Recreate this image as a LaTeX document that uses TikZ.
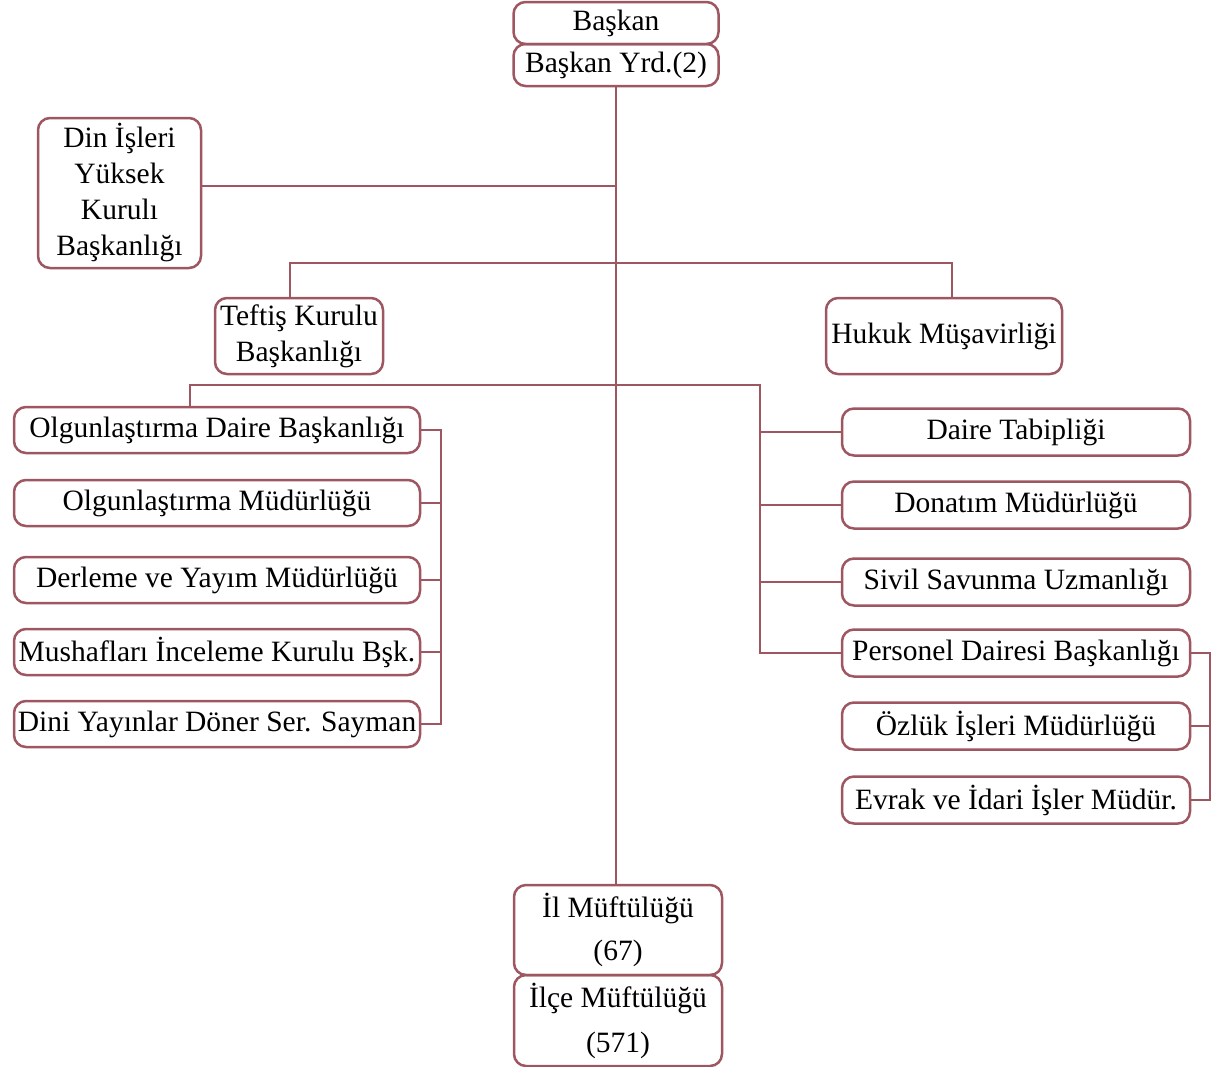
\documentclass[tikz,border=0pt]{standalone}
\usepackage{fontspec}
\setmainfont{Liberation Serif}
\usetikzlibrary{positioning}
\definecolor{orgline}{RGB}{158,86,96}

\begin{document}
\begin{tikzpicture}
[
	x = 1pt, y = -1pt,
	unit/.style	= {draw = orgline, line width = 2.5pt, rounded corners = 12pt, inner sep = 0pt, align = center, font = \fontsize{29.5}{36}\selectfont},
	topunit/.style	= {unit, minimum width = 205pt, minimum height = 42pt},
	leftunit/.style	= {unit, minimum width = 406pt, minimum height = 46pt},
	rightunit/.style	= {unit, minimum width = 348pt, minimum height = 47pt},
	muftu/.style	= {unit, minimum width = 208pt, minimum height = 90pt},
	link/.style	= {draw = orgline, line width = 2.5pt},
]

	\useasboundingbox (0,0) rectangle (1214,1066);

	\node (bas) [topunit] at (616,23) {Başkan};
	\node (yrd) [topunit] at (616,65) {Başkan Yrd.(2)};
	%
	\node (din) [unit, minimum width = 163pt, minimum height = 150pt] at (119.5,193) {Din İşleri\\Yüksek\\Kurulı\\Başkanlığı};
	\node (teftis) [unit, minimum width = 168pt, minimum height = 76pt] at (299,336) {Teftiş Kurulu\\Başkanlığı};
	\node (hukuk) [unit, minimum width = 236pt, minimum height = 76pt] at (944,336) {Hukuk Müşavirliği};
	%
	\node (olgdaire) [leftunit] at (217,430) {Olgunlaştırma Daire Başkanlığı};
	\node (olgmud) [leftunit] at (217,503) {Olgunlaştırma Müdürlüğü};
	\node (derleme) [leftunit] at (217,580) {Derleme ve Yayım Müdürlüğü};
	\node (mushaf) [leftunit] at (217,652) {Mushafları İnceleme Kurulu Bşk.};
	\node (doner) [leftunit] at (217,724) {Dini Yayınlar Döner Ser. Sayman};
	%
	\node (tabip) [rightunit] at (1016,432) {Daire Tabipliği};
	\node (donatim) [rightunit] at (1016,505) {Donatım Müdürlüğü};
	\node (sivil) [rightunit] at (1016,582) {Sivil Savunma Uzmanlığı};
	\node (personel) [rightunit] at (1016,653) {Personel Dairesi Başkanlığı};
	\node (ozluk) [rightunit] at (1016,726) {Özlük İşleri Müdürlüğü};
	\node (evrak) [rightunit] at (1016,800) {Evrak ve İdari İşler Müdür.};
	%
	\node (il) [muftu] at (618,930) {İl Müftülüğü\\[7pt](67)};
	\node (ilce) [muftu, minimum height = 91pt] at (618,1020.5) {İlçe Müftülüğü\\[9pt](571)};

	\coordinate (dinhub) at (616,186);
	\coordinate (hub1) at (616,263);
	\coordinate (rbus) at (760,385);
	\coordinate (lbr) at (441,430);
	\coordinate (rbr) at (1210,657);

	\draw [link] (yrd.south) -- (yrd.south |- il.north);
	\draw [link] (dinhub) -- (dinhub -| din.east);
	\draw [link] ([xshift=-9pt]teftis.north) |- (hub1) -| ([xshift=8pt]hukuk.north);
	%
	\draw [link] ([xshift=-27pt]olgdaire.north) |- (rbus) |- (personel.west);
	\foreach \n in {tabip, donatim, sivil}
		\draw [link] (\n.west) -- (\n.west -| rbus);
	%
	\draw [link] (olgdaire.east) -| (lbr |- doner.east) -- (doner.east);
	\foreach \n in {olgmud, derleme, mushaf}
		\draw [link] (\n.east) -- (\n.east -| lbr);
	%
	\draw [link] (personel.east) -| (rbr |- evrak.east) -- (evrak.east);
	\draw [link] (ozluk.east) -- (ozluk.east -| rbr);

\end{tikzpicture}
\end{document}
